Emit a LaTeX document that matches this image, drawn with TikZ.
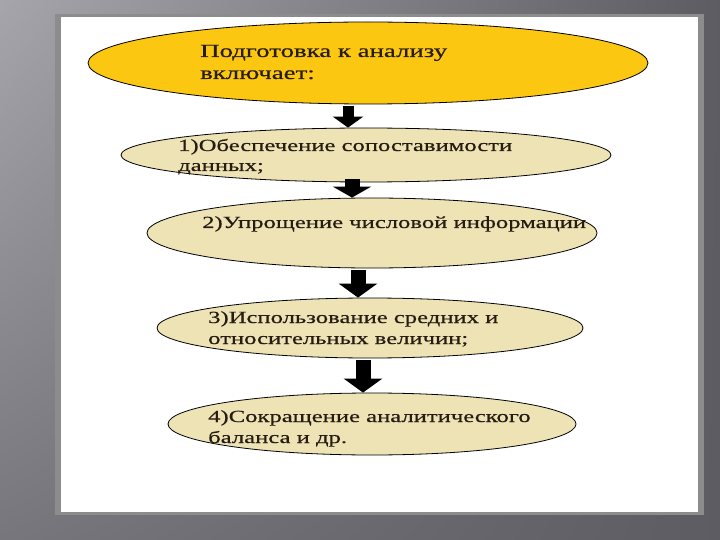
\documentclass[tikz,border=0pt]{standalone}
\usepackage{fontspec}
\setmainfont[FakeStretch=1.45,FakeBold=0.5]{Liberation Serif}
\usetikzlibrary{shapes.geometric,arrows.meta,shadings}
\definecolor{bgl}{RGB}{165,165,171}
\definecolor{bgd}{RGB}{92,92,98}
\definecolor{bgm}{RGB}{118,118,124}
\definecolor{gold}{RGB}{252,199,16}
\definecolor{sand}{RGB}{238,227,181}
\definecolor{ink}{RGB}{38,28,18}
\tikzset{
  oval/.style={ellipse,draw=black,line width=0.8pt,inner sep=0pt},
  lbl/.style={anchor=base west,inner sep=0pt,text=ink,font=\fontsize{17}{21}\selectfont},
  blockarrow/.style={line width=15pt,-{Triangle[width=38pt,length=14pt]}}
}
\begin{document}
\begin{tikzpicture}[x=1pt,y=-1pt]
\useasboundingbox (0,0) rectangle (720,540);
\shade[upper left=bgl,upper right=bgd,lower left=bgm,lower right=bgd] (0,0) rectangle (720,540);
\fill[black!45] (55,14) rectangle (704,515);
\fill[white] (61,17) rectangle (698,512);
\node[oval,fill=gold,minimum width=560,minimum height=82] (prep) at (368,63) {};
\node[oval,fill=sand,minimum width=490,minimum height=54] (e1) at (366,155) {};
\node[oval,fill=sand,minimum width=450,minimum height=70] (e2) at (372,233) {};
\node[oval,fill=sand,minimum width=426,minimum height=60] (e3) at (370,328) {};
\node[oval,fill=sand,minimum width=408,minimum height=62] (e4) at (372,424) {};
\node[lbl,font=\fontsize{18.5}{21}\selectfont] (p1) at (200,57) {Подготовка к анализу};
\node[lbl,font=\fontsize{18.5}{21}\selectfont] (p2) at (200,79) {включает:};
\node[lbl] (a1) at (178,151) {1)Обеспечение сопоставимости};
\node[lbl] (a2) at (178,171) {данных;};
\node[lbl] (b1) at (202,228) {2)Упрощение числовой информации};
\node[lbl] (c1) at (208,323) {3)Использование средних и};
\node[lbl] (c2) at (208,344) {относительных величин;};
\node[lbl] (d1) at (208,422) {4)Сокращение аналитического};
\node[lbl] (d2) at (208,443) {баланса и др.};
\coordinate (x1) at (348,0);
\coordinate (x2) at (352,0);
\coordinate (x3) at (358,0);
\coordinate (x4) at (363,0);
\draw[blockarrow,line width=11pt,-{Triangle[width=30pt,length=11pt]}] ([yshift=-2pt]prep.south -| x1) -- (e1.north -| x1);
\draw[blockarrow,-{Triangle[width=38pt,length=11pt]}] ([yshift=3pt]e1.south -| x2) -- (e2.north -| x2);
\draw[blockarrow] ([yshift=-2pt]e2.south -| x3) -- (e3.north -| x3);
\draw[blockarrow] ([yshift=-2pt]e3.south -| x4) -- (e4.north -| x4);
\end{tikzpicture}
\end{document}
